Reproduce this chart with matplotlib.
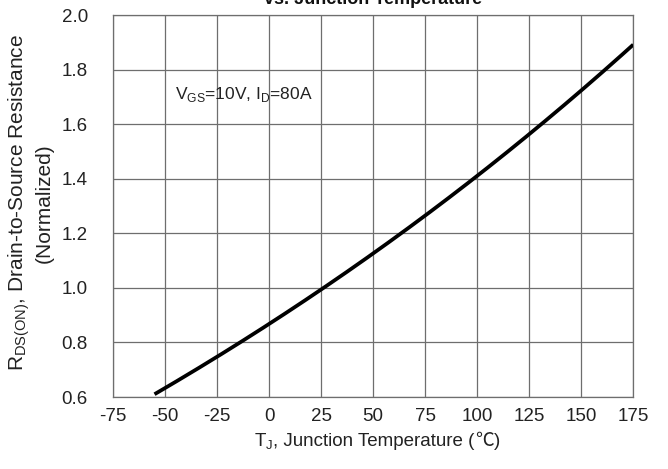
import matplotlib
matplotlib.use("Agg")
import matplotlib.pyplot as plt
from matplotlib.offsetbox import TextArea, HPacker, AnchoredOffsetbox
import numpy as np

# Normalized on-resistance vs. junction temperature
temp_c = [-55, -25, 0, 25, 50, 75, 100, 125, 150, 175]
rds_norm = [0.61, 0.747, 0.868, 0.995, 1.127, 1.262, 1.408, 1.566, 1.725, 1.89]

x_ticks = [-75, -50, -25, 0, 25, 50, 75, 100, 125, 150, 175]
y_ticks = [0.6, 0.8, 1.0, 1.2, 1.4, 1.6, 1.8, 2.0]

plt.rcParams['font.family'] = ['Liberation Sans', 'Noto Sans CJK SC', 'DejaVu Sans']
plt.rcParams['mathtext.fontset'] = 'custom'
plt.rcParams['mathtext.rm'] = 'Liberation Sans'

TXT = '#222222'
GRID = '#6e6e6e'

fig = plt.figure(figsize=(6.68, 4.69), dpi=100)
ax = fig.add_axes([0.169, 0.1535, 0.779, 0.8145])

# smooth curve through the sampled points
xs = np.linspace(temp_c[0], temp_c[-1], 300)
coef = np.polyfit(temp_c, rds_norm, 3)
ax.plot(xs, np.polyval(coef, xs), color='black', lw=2.7, solid_capstyle='butt', zorder=3)

ax.set_xlim(-75, 175)
ax.set_ylim(0.6, 2.0)
ax.set_xticks(x_ticks)
ax.set_yticks(y_ticks)
ax.set_xticklabels([str(t) for t in x_ticks])
ax.set_yticklabels([f"{v:.1f}" for v in y_ticks])
ax.tick_params(length=0, labelsize=13.5, colors=TXT)
ax.tick_params(axis='y', pad=18)
ax.tick_params(axis='x', pad=8)
ax.grid(True, color=GRID, lw=0.9)
for s in ax.spines.values():
    s.set_color(GRID)
    s.set_linewidth(0.9)

# y-axis title (two lines)
fig.text(30 / 668, 1 - 203 / 469,
         'R$_{\\mathregular{DS(ON)}}$, Drain-to-Source Resistance\n(Normalized)',
         rotation=90, ha='center', va='center', multialignment='center',
         fontsize=15, color=TXT, linespacing=1.12)

# x-axis title: subscript part via mathtext, full-width Celsius sign from the CJK font
lab_props = dict(fontsize=13.5, color=TXT)
parts = [
    TextArea(r'T$_{\mathregular{J}}$', textprops=lab_props),
    TextArea(', Junction Temperature (', textprops=lab_props),
    TextArea('℃', textprops=dict(fontsize=13.5, color=TXT, family='Noto Sans CJK SC')),
    TextArea(')', textprops=lab_props),
]
xlab = HPacker(children=parts, align='baseline', pad=0, sep=0)
box = AnchoredOffsetbox(loc='center', child=xlab, frameon=False, pad=0, borderpad=0,
                        bbox_to_anchor=(377 / 668, 1 - 441 / 469),
                        bbox_transform=fig.transFigure)
fig.add_artist(box)

ax.text(-45.2, 1.71, r'V$_{\mathregular{GS}}$=10V, I$_{\mathregular{D}}$=80A',
        fontsize=12.5, color=TXT, va='center', ha='left')

fig.text(0.558, 1.0, 'vs. Junction Temperature', fontsize=13, fontweight='bold',
         ha='center', va='center', color='#111111')

fig.savefig('out.png', dpi=100)
